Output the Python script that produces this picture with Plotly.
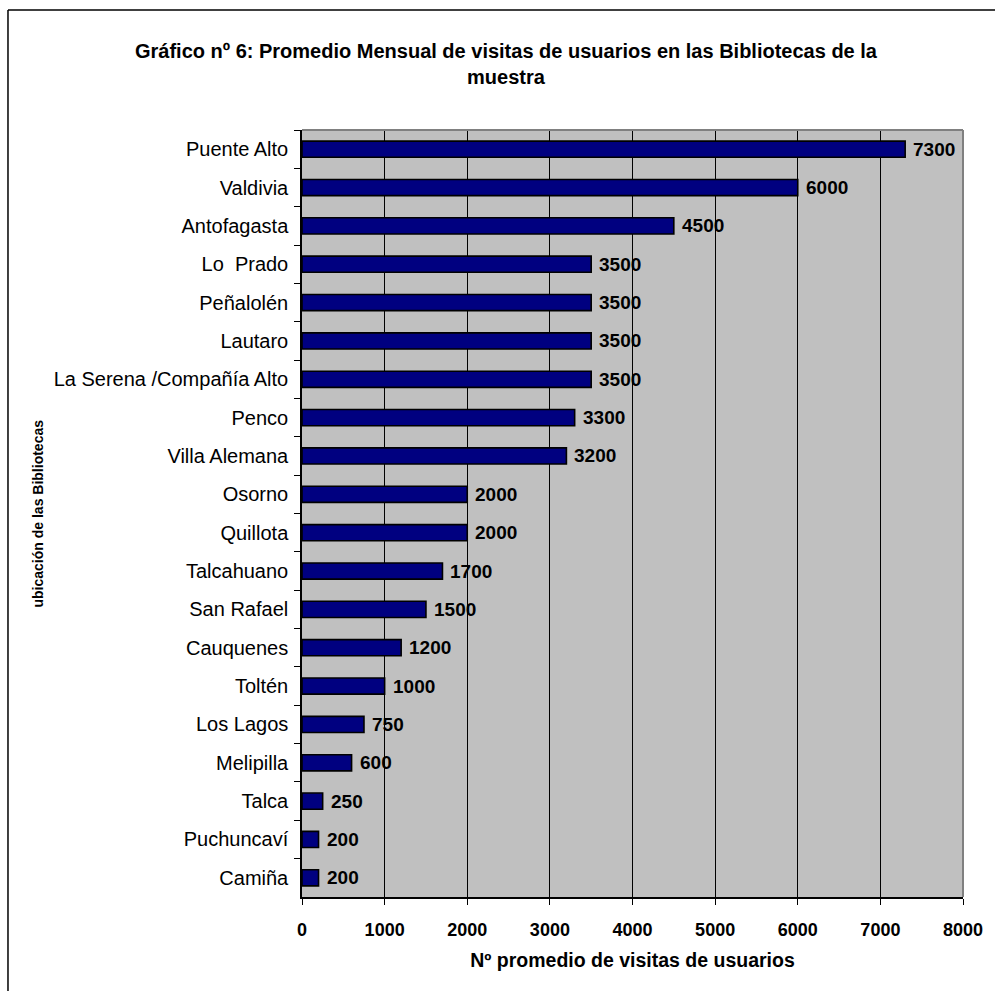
import plotly.graph_objects as go

# Bibliotecas y promedio mensual de visitas
bibliotecas = [
    "Puente Alto", "Valdivia", "Antofagasta", "Lo\u00a0 Prado", "Peñalolén",
    "Lautaro", "La Serena /Compañía Alto", "Penco", "Villa Alemana", "Osorno",
    "Quillota", "Talcahuano", "San Rafael", "Cauquenes", "Toltén",
    "Los Lagos", "Melipilla", "Talca", "Puchuncaví", "Camiña",
]
visitas = [
    7300, 6000, 4500, 3500, 3500,
    3500, 3500, 3300, 3200, 2000,
    2000, 1700, 1500, 1200, 1000,
    750, 600, 250, 200, 200,
]
x_ticks = [0, 1000, 2000, 3000, 4000, 5000, 6000, 7000, 8000]

FONT = "Liberation Sans, Arial, sans-serif"

fig = go.Figure()
fig.add_trace(go.Bar(
    x=visitas,
    y=bibliotecas,
    orientation="h",
    marker=dict(color="#000080", line=dict(color="#000000", width=1.6)),
    hoverinfo="x+y",
))

# value labels to the right of each bar
annotations = [
    dict(x=v, y=b, xref="x", yref="y", text=f"<b>{v}</b>", showarrow=False,
         xanchor="left", yanchor="middle", xshift=6,
         font=dict(family=FONT, size=19, color="#000000"))
    for b, v in zip(bibliotecas, visitas)
]

# chart title
annotations.append(dict(
    x=0.31, y=1.0, xref="paper", yref="paper", xanchor="center",
    yanchor="bottom", yshift=40,
    text="<b>Gráfico nº 6: Promedio Mensual de visitas de usuarios en las Bibliotecas de la"
         "<br>muestra</b>",
    showarrow=False, align="center",
    font=dict(family=FONT, size=20, color="#000000"),
))

# vertical category-axis title
annotations.append(dict(
    x=-0.3994, y=0.5, xref="paper", yref="paper", xanchor="center",
    yanchor="middle", textangle=-90,
    text="<b>ubicación de las Bibliotecas</b>", showarrow=False,
    font=dict(family=FONT, size=14, color="#000000"),
))

fig.update_layout(
    width=995, height=991,
    margin=dict(l=302, r=32, t=130, b=94),
    paper_bgcolor="#ffffff",
    plot_bgcolor="#C0C0C0",
    bargap=0.58,
    showlegend=False,
    annotations=annotations,
    font=dict(family=FONT, color="#000000"),
    xaxis=dict(
        range=[0, 8000],
        tickvals=x_ticks,
        ticktext=[f"<b>{t}</b>" for t in x_ticks],
        tickfont=dict(family=FONT, size=18, color="#000000"),
        showgrid=True, gridcolor="#000000", gridwidth=1,
        zeroline=False,
        showline=True, linecolor="#000000", linewidth=1.5,
        ticks="outside", ticklen=6, tickcolor="#000000", tickwidth=1,
        ticklabelstandoff=10,
        title=dict(text="<b>Nº promedio de visitas de usuarios</b>",
                   font=dict(family=FONT, size=19.5, color="#000000"),
                   standoff=14),
    ),
    yaxis=dict(
        categoryorder="array", categoryarray=bibliotecas,
        autorange="reversed",
        tickfont=dict(family=FONT, size=20, color="#000000"),
        showgrid=False, zeroline=False,
        showline=True, linecolor="#000000", linewidth=1.5,
        ticks="outside", ticklen=6, tickcolor="#000000", tickwidth=1,
        tickson="boundaries",
        ticklabelstandoff=8,
    ),
    shapes=[
        # grey edge of the plot area (top and right)
        dict(type="line", xref="paper", yref="paper", x0=0, x1=1, y0=1, y1=1,
             line=dict(color="#808080", width=2), layer="above"),
        dict(type="line", xref="paper", yref="paper", x0=1, x1=1, y0=0, y1=1,
             line=dict(color="#808080", width=2), layer="above"),
        # outer chart frame
        dict(type="line", xref="paper", yref="paper", x0=-0.4448, x1=1.1,
             y0=1.1565, y1=1.1565, line=dict(color="#000000", width=1.5)),
        dict(type="line", xref="paper", yref="paper", x0=-0.4448, x1=-0.4448,
             y0=-0.2, y1=1.1565, line=dict(color="#000000", width=1.5)),
    ],
)

fig.write_html("out.html")
